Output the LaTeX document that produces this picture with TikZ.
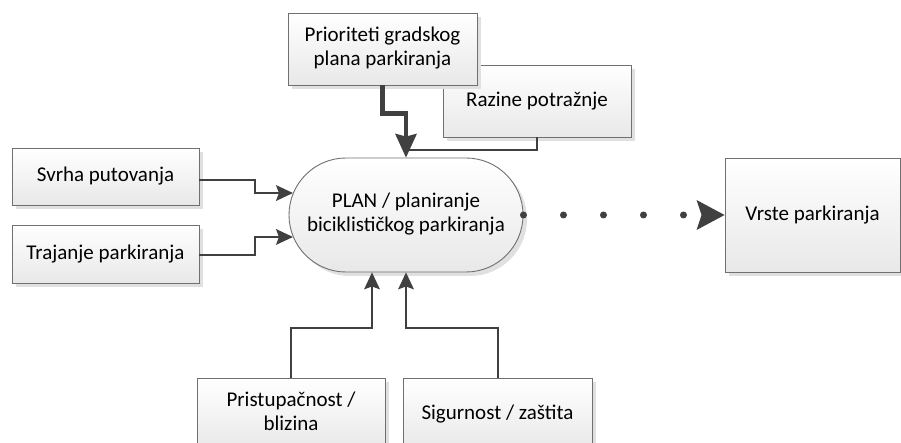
\documentclass[tikz,border=0pt]{standalone}
\usepackage{fontspec}
\setmainfont{Carlito}
\usetikzlibrary{arrows.meta,shapes.misc,shadows,calc}
\definecolor{dark}{HTML}{404040}
\definecolor{edge}{HTML}{707070}
\newcommand\mylines[1]{\begin{tabular}{@{}c@{}}#1\end{tabular}}
\tikzset{
  box/.style={draw=edge, line width=0.9pt, top color=white, bottom color=black!9,
    drop shadow={shadow xshift=4pt, shadow yshift=-4pt, fill=black!12, opacity=1},
    inner sep=0pt, font=\fontsize{21}{24}\selectfont},
  conn/.style={draw=dark, line width=2pt, -{Stealth[length=17pt,width=16pt,inset=3pt,line width=0pt]}},
  plain/.style={draw=dark, line width=2pt},
}
\begin{document}
\begin{tikzpicture}[x=1pt,y=-1pt]
\useasboundingbox (0,0) rectangle (901,443);
% boxes
\node[box, minimum width=188pt, minimum height=72pt] (raz) at (537,101) {Razine potražnje};
\node[box, minimum width=189pt, minimum height=72pt] (prior) at (382.5,49) {\mylines{Prioriteti gradskog\\plana parkiranja}};
\node[box, minimum width=187pt, minimum height=57pt] (svrha) at (105.5,176.5) {Svrha putovanja};
\node[box, minimum width=187pt, minimum height=58pt] (traj) at (105.5,254) {Trajanje parkiranja};
\node[box, rounded rectangle, rounded rectangle arc length=180, minimum width=234pt, minimum height=114pt] (plan) at (406,215) {\mylines{PLAN / planiranje\\biciklističkog parkiranja}};
\node[box, minimum width=175pt, minimum height=114pt] (vrste) at (812.5,215) {Vrste parkiranja};
\node[box, minimum width=188pt, minimum height=72pt] (prist) at (291,414) {\mylines{Pristupačnost /\\blizina}};
\node[box, minimum width=189pt, minimum height=72pt] (sig) at (497.5,414) {Sigurnost / zaštita};
% connectors
\draw[conn] ([yshift=-3.5pt]svrha.east) -- ++(56,0) |- (plan.169);
\draw[conn] ([yshift=-1pt]traj.east) -- ++(56,0) |- (plan.191);
\draw[conn] (prist.north) -- ++(0,-50) -| ($(plan.south)+(-34,0)$);
\draw[conn] (sig.north) -- ++(0,-50) -| (plan.south);
\draw[plain] (raz.south) |- ($(plan.north)+(0,-8)$);
\draw[draw=dark, line width=4.5pt, -{Stealth[length=24pt,width=22pt,inset=3pt,line width=0pt]}] (prior.south) -- ++(0,28) -| (plan.north);
% dotted connector
\draw[draw=dark, line width=7pt, line cap=round, dash pattern=on 0pt off 40pt,
  -{Stealth[length=28pt,width=30pt,inset=5pt,line width=0pt]}] (plan.east) -- (vrste.west);
\end{tikzpicture}
\end{document}
